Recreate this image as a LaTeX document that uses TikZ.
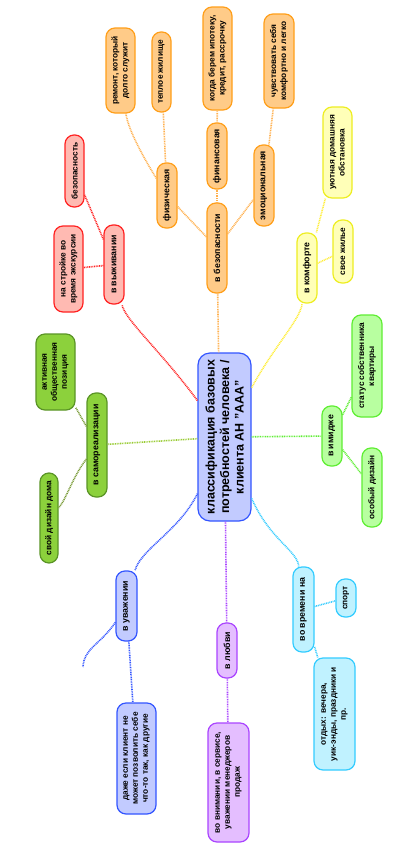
\documentclass[tikz,border=0pt]{standalone}
\usepackage{fontspec}
\setmainfont{Liberation Sans}
\definecolor{orF}{HTML}{FFCB88}\definecolor{orD}{HTML}{FF9F1A}\definecolor{orL}{HTML}{FFB04D}
\definecolor{reF}{HTML}{FFBAB2}\definecolor{reD}{HTML}{FF2222}
\definecolor{yeF}{HTML}{FFFFB8}\definecolor{yeD}{HTML}{EEEE22}\definecolor{yeL}{HTML}{FFEE33}
\definecolor{lgF}{HTML}{B8FFA0}\definecolor{lgD}{HTML}{5FEE33}
\definecolor{dgF}{HTML}{8CD13C}\definecolor{dgD}{HTML}{5A9426}\definecolor{dgL}{HTML}{99CC33}\definecolor{dgL2}{HTML}{779933}
\definecolor{blF}{HTML}{C2CBFF}\definecolor{blD}{HTML}{3355FF}
\definecolor{cyF}{HTML}{C0F2FF}\definecolor{cyD}{HTML}{33CCFF}
\definecolor{puF}{HTML}{E4BEFF}\definecolor{puD}{HTML}{AA44FF}
\tikzset{
  mm/.style={rotate=90, draw, rounded corners=9pt, line width=1.2pt, inner sep=0pt, align=center,
    font=\fontsize{8.3}{10}\selectfont\bfseries},
  par/.style={mm, font=\fontsize{8.8}{10}\selectfont\bfseries},
  sz/.style 2 args={minimum width=#1pt, minimum height=#2pt},
  lnk/.style={line width=1.6pt, dash pattern=on 0.9pt off 0.8pt},
  orN/.style={fill=orF, draw=orD}, reN/.style={fill=reF, draw=reD}, yeN/.style={fill=yeF, draw=yeD},
  lgN/.style={fill=lgF, draw=lgD}, dgN/.style={fill=dgF, draw=dgD}, blN/.style={fill=blF, draw=blD},
  cyN/.style={fill=cyF, draw=cyD}, puN/.style={fill=puF, draw=puD}
}
\begin{document}
\begin{tikzpicture}[x=1pt,y=-1pt]
\path[use as bounding box, fill=white] (0,0) rectangle (416,847);
% central
\node[mm, blN, rounded corners=12pt, sz={168}{53}, font=\fontsize{12.5}{14.5}\selectfont\bfseries] (c) at (224.5,437)
  {классификация базовых\\потребностей человека /\\клиента АН "AAA"};
% orange branch
\node[par, orN, sz={90}{20}] (bez) at (217,248) {в безопасности};
\node[par, orN, sz={66}{20}] (fin) at (217,156) {финансовая};
\node[mm, orN, sz={103}{29}] (kogda) at (217.5,58.5) {когда берем ипотеку,\\кредит, рассрочку};
\node[par, orN, sz={81}{20}] (emo) at (264,185.5) {эмоциональная};
\node[mm, orN, sz={94}{30}] (chuv) at (279,61) {чувствовать себя\\комфортно и легко};
\node[par, orN, sz={65}{20}] (fiz) at (167,195.5) {физическая};
\node[mm, orN, sz={85}{29}] (remont) at (120.5,70.5) {ремонт, который\\долго служит};
\node[mm, orN, sz={80}{19}] (teplo) at (161.5,72) {теплое жилище};
% red branch
\node[par, reN, sz={79}{20}] (vyzh) at (114,264.5) {в выживании};
\node[mm, reN, sz={72}{19}] (bezop) at (74.5,171) {безопасность};
\node[mm, reN, sz={86}{29}] (stroy) at (68.5,269) {на стройке во\\время экскурсии};
% yellow branch
\node[par, yeN, sz={70}{20}] (komf) at (307,268) {в комфорте};
\node[mm, yeN, sz={91}{29}] (uyut) at (337.5,152.5) {уютная домашняя\\обстановка};
\node[mm, yeN, sz={63}{20}] (svoe) at (343,251.5) {свое жилье};
% light green branch
\node[par, lgN, sz={60}{20}] (imid) at (332,436) {в имидже};
\node[mm, lgN, sz={102}{30}] (status) at (367,366) {статус собственника\\квартиры};
\node[mm, lgN, sz={79}{20}] (osob) at (372,487.5) {особый дизайн};
% dark green branch
\node[par, dgN, sz={104}{20}] (samo) at (97,445) {в самореализации};
\node[mm, dgN, sz={76}{39}] (aktiv) at (55.5,372) {активная\\общественная\\позиция};
\node[mm, dgN, sz={90}{18}] (svoy) at (49,518) {свой дизайн дома};
% blue branch
\node[par, blN, sz={70}{21}] (uvazh) at (126.5,606) {в уважении};
\node[mm, blN, sz={111}{39}] (dazhe) at (136.5,758.5) {даже если клиент не\\может позволить себе\\что-то так, как другие};
\coordinate (hang) at (83,667);
% purple branch
\node[par, puN, sz={55}{20}] (lyub) at (227,650.5) {в любви};
\node[mm, puN, sz={119}{41}] (vnim) at (228.5,782.5) {во внимании, в сервисе,\\уважении менеджеров\\продаж};
% cyan branch
\node[par, cyN, sz={85}{21}] (vrem) at (303.5,609.5) {во времени на};
\node[mm, cyN, sz={38}{20}] (sport) at (346,598) {спорт};
\node[mm, cyN, sz={112}{41}] (otdyh) at (334.5,714) {отдых: вечера,\\уик-энды, праздники и\\пр.};
% connectors
\draw[lnk, orL] (c.4) -- (bez);
\draw[lnk, orL] (bez) -- (fiz);
\draw[lnk, orL] (bez) -- (fin);
\draw[lnk, orL] (bez) -- (emo);
\draw[lnk, orL] (fin) -- (kogda);
\draw[lnk, orL] (emo) -- (chuv);
\draw[lnk, orL] (fiz) .. controls (145,160) and (128,130) .. (remont);
\draw[lnk, orL] (fiz) -- (teplo);
\draw[lnk, reD] (c) .. controls (160,350) and (125,320) .. (vyzh);
\draw[lnk, reD] (vyzh) -- (bezop);
\draw[lnk, reD] (vyzh) -- (stroy);
\draw[lnk, yeL] (c) .. controls (275,345) and (300,320) .. (komf);
\draw[lnk, yeL] (komf) -- (uyut);
\draw[lnk, yeL] (komf) -- (svoe);
\draw[lnk, lgD] (c) -- (imid);
\draw[lnk, lgD] (imid) -- (status);
\draw[lnk, lgD] (imid) -- (osob);
\draw[lnk, dgL] (c) -- (samo);
\draw[lnk, dgL2] (samo) -- (aktiv);
\draw[lnk, dgL2] (samo) .. controls (72,478) and (66,500) .. (svoy);
\draw[lnk, blD] (c) .. controls (180,530) and (140,550) .. (uvazh);
\draw[lnk, blD] (uvazh) .. controls (100,645) and (84,648) .. (hang);
\draw[lnk, blD] (uvazh) -- (dazhe);
\draw[lnk, puD] (c) -- (lyub);
\draw[lnk, puD] (lyub) -- (vnim);
\draw[lnk, cyD] (c) .. controls (270,540) and (297,550) .. (vrem);
\draw[lnk, cyD] (vrem) -- (sport);
\draw[lnk, cyD] (vrem) -- (otdyh);
\end{tikzpicture}
\end{document}
